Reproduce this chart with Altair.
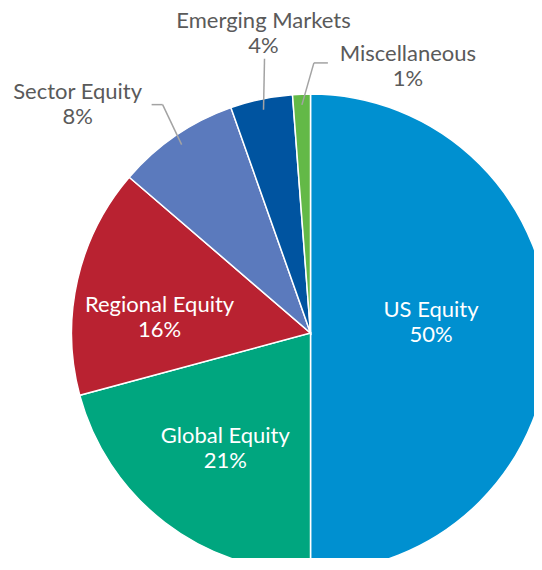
import altair as alt
import pandas as pd
import numpy as np

# ---- data ----
categories = ["US Equity", "Global Equity", "Regional Equity",
              "Sector Equity", "Emerging Markets", "Miscellaneous"]
values = [50.0, 20.8, 15.5, 8.3, 4.2, 1.2]
pct_labels = ["50%", "21%", "16%", "8%", "4%", "1%"]
colors = ["#0090d0", "#00a67f", "#b92231", "#5b7abd", "#0054a0", "#63b947"]
inside = [True, True, True, False, False, False]

# ---- layout (pixels) ----
W, H = 526, 550
R = 239.0
CX, CY = 302.5, 325.0
LH = 25  # text line height
xs = alt.Scale(domain=[-CX / R, (W - CX) / R], nice=False, zero=False)
ys = alt.Scale(domain=[-(H - CY) / R, CY / R], nice=False, zero=False)

# inside label placement: (radius factor, angle nudge in degrees)
inside_layout = {"US Equity": (0.506, -5.0),
                 "Global Equity": (0.60, -1.0),
                 "Regional Equity": (0.635, -6.8)}
# outside label leader: elbow offset px (dx, dy_up), horizontal run px, label offset px
outside_layout = {"Sector Equity": ((-19, 40), -11, (-74, 0)),
                  "Emerging Markets": ((1, 51), 0, (-1, 25)),
                  "Miscellaneous": ((12, 42), 14, (80, -4))}

tot = float(np.sum(values))
cum = np.cumsum(values)
mid = (cum - np.array(values) / 2) / tot * 360.0

pie_df = pd.DataFrame({"category": categories, "value": values,
                       "idx": list(range(len(categories)))})

lab_rows, seg_rows = [], []
for i, cat in enumerate(categories):
    text = cat + "\n" + pct_labels[i]
    if inside[i]:
        r, d = inside_layout[cat]
        a = np.radians(mid[i] + d)
        cx_, cy_ = r * np.sin(a), r * np.cos(a)
        col = "white"
    else:
        a = np.radians(mid[i])
        sx, sy = 0.955 * np.sin(a), 0.955 * np.cos(a)
        (ex, ey), hrun, (lx, ly) = outside_layout[cat]
        exx, eyy = sx + ex / R, sy + ey / R
        hx = exx + hrun / R
        seg_rows.append({"x": sx, "y": sy, "x2": exx, "y2": eyy})
        if hrun != 0:
            seg_rows.append({"x": exx, "y": eyy, "x2": hx, "y2": eyy})
        cx_, cy_ = hx + lx / R, eyy + ly / R
        col = "#5a5a5a"
    # first line sits half a line above the block centre
    lab_rows.append({"x": cx_, "y": cy_ + (LH / 2) / R, "text": text, "col": col})

lab_df = pd.DataFrame(lab_rows)
seg_df = pd.DataFrame(seg_rows)

pie = alt.Chart(pie_df).mark_arc(outerRadius=R, stroke="white", strokeWidth=1.5).encode(
    theta=alt.Theta("value:Q", stack=True),
    color=alt.Color("category:N", scale=alt.Scale(domain=categories, range=colors), legend=None),
    order=alt.Order("idx:Q"),
    x=alt.value(CX),
    y=alt.value(CY),
)

leaders = alt.Chart(seg_df).mark_rule(color="#a3a3a3", strokeWidth=1.5).encode(
    x=alt.X("x:Q", scale=xs, axis=None),
    y=alt.Y("y:Q", scale=ys, axis=None),
    x2="x2:Q",
    y2="y2:Q",
)

labels = alt.Chart(lab_df).mark_text(font="Lato", fontSize=22, lineBreak="\n",
                                     lineHeight=LH, align="center", baseline="middle").encode(
    x=alt.X("x:Q", scale=xs, axis=None),
    y=alt.Y("y:Q", scale=ys, axis=None),
    text="text:N",
    color=alt.Color("col:N", scale=None),
)

chart = alt.layer(pie, leaders, labels).properties(
    width=W, height=H, autosize=alt.AutoSizeParams(type="none"), padding=0
).configure_view(stroke=None)

chart.save("out.html", embed_options={"renderer": "svg", "actions": False})
